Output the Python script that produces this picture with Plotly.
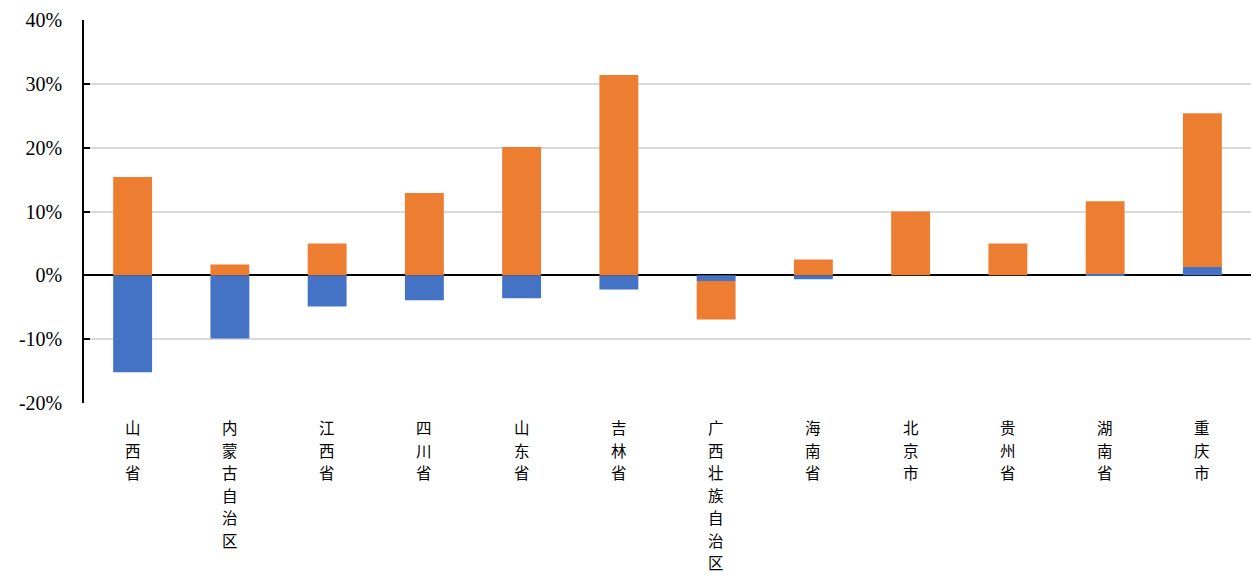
import plotly.graph_objects as go

# Provinces (x axis, written vertically)
provinces = ["山西省", "内蒙古自治区", "江西省", "四川省", "山东省", "吉林省",
             "广西壮族自治区", "海南省", "北京市", "贵州省", "湖南省", "重庆市"]

# Two stacked components, in percent
blue_part = [-15.2, -9.9, -4.9, -3.9, -3.6, -2.2, -0.9, -0.6, 0.0, 0.0, 0.2, 1.3]
orange_part = [15.4, 1.7, 5.0, 12.9, 20.1, 31.4, -6.0, 2.5, 10.0, 5.0, 11.4, 24.1]

y_ticks = [-20, -10, 0, 10, 20, 30, 40]
y_tick_text = ["-20%", "-10%", "0%", "10%", "20%", "30%", "40%"]

fig = go.Figure()
fig.add_trace(go.Bar(x=provinces, y=blue_part, marker_color="#4472C4",
                     marker_line_width=0, name="blue"))
fig.add_trace(go.Bar(x=provinces, y=orange_part, marker_color="#ED7D31",
                     marker_line_width=0, name="orange"))

# Category names written top-to-bottom, one character per line
char_step = 22.5
for name in provinces:
    for j, ch in enumerate(name):
        fig.add_annotation(
            x=name, y=0, xref="x", yref="paper",
            yanchor="top", yshift=-(11 + j * char_step),
            text=ch, showarrow=False,
            font=dict(family="Noto Sans CJK SC", size=15.5, color="#000000"),
        )

fig.update_layout(
    width=1251, height=577,
    barmode="relative",
    bargap=0.6,
    showlegend=False,
    plot_bgcolor="white",
    paper_bgcolor="white",
    margin=dict(l=84, r=0, t=20, b=174),
)

fig.update_yaxes(
    range=[-20, 40],
    tickvals=y_ticks,
    ticktext=y_tick_text,
    showgrid=True, gridcolor="#d9d9d9", gridwidth=1.5,
    zeroline=True, zerolinecolor="#000000", zerolinewidth=1.5,
    showline=True, linecolor="#000000", linewidth=1.5,
    ticks="inside", ticklen=6, tickcolor="#000000", tickwidth=1.5,
    tickfont=dict(family="Liberation Serif, Times New Roman, serif", size=20, color="#000000"),
    ticklabelstandoff=16,
)

fig.update_xaxes(
    showgrid=False, showline=False, ticks="",
    showticklabels=False,
)

fig.write_html("out.html")
